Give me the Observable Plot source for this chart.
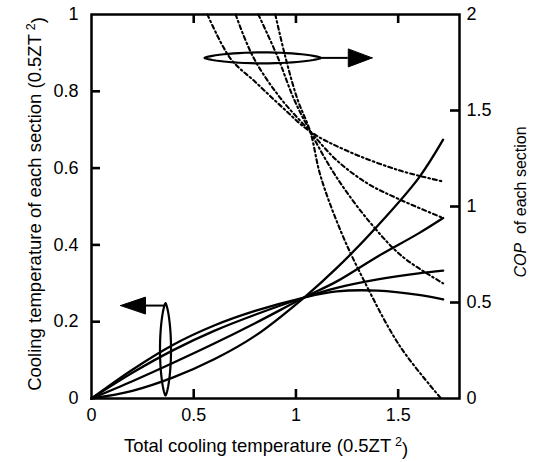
<!DOCTYPE html>
<html><head><meta charset="utf-8">
<script src="https://cdn.jsdelivr.net/npm/d3@7"></script>
<script src="https://cdn.jsdelivr.net/npm/@observablehq/plot@0.6"></script>
<style>body{margin:0;background:#fff} svg{font-family:"Liberation Sans",Arial,sans-serif}</style>
</head><body><div id="chart"></div>
<script>
// ---- data ----
const xTicks = [0, 0.5, 1, 1.5];
const yTicks = [0, 0.2, 0.4, 0.6, 0.8, 1];
const copTicks = [0, 0.5, 1, 1.5, 2];

// cooling temperature of each section (left axis, 0.5ZT^2)
const coolX = [0, 0.2, 0.4, 0.6, 0.8, 1.04, 1.2, 1.4, 1.6, 1.72];
const coolA = [0, 0.02, 0.055, 0.102, 0.163, 0.263, 0.34, 0.45, 0.574, 0.674];
const coolB = [0, 0.045, 0.093, 0.143, 0.196, 0.263, 0.305, 0.37, 0.43, 0.47];
const coolC = [0, 0.067, 0.126, 0.176, 0.218, 0.263, 0.288, 0.31, 0.326, 0.333];
const coolD = [0, 0.075, 0.14, 0.19, 0.228, 0.263, 0.279, 0.281, 0.27, 0.258];

// COP of each section (right axis)
const cop1X = [0.567, 0.68, 0.80, 0.93, 1.07, 1.25, 1.5, 1.72];
const cop1  = [2.0, 1.77, 1.65, 1.52, 1.39, 1.29, 1.19, 1.13];
const cop2X = [0.705, 0.79, 0.92, 1.07, 1.2, 1.35, 1.5, 1.72];
const cop2  = [2.0, 1.78, 1.57, 1.39, 1.24, 1.12, 1.04, 0.94];
const cop3X = [0.816, 0.91, 0.99, 1.07, 1.2, 1.36, 1.52, 1.72];
const cop3  = [2.0, 1.78, 1.56, 1.39, 1.15, 0.92, 0.74, 0.60];
const cop4X = [0.899, 0.948, 1.007, 1.07, 1.12, 1.22, 1.33, 1.51, 1.71];
const cop4  = [2.0, 1.78, 1.56, 1.39, 1.16, 0.87, 0.62, 0.27, 0.0];

// annotation ellipses and arrows: [cx, cy, rx, ry] and arrow [x0, x1(head base), tip, y, headHalf]
const ellipseCop = [0.838, 0.887, 0.285, 0.0143];
const arrowCop = [1.129, 1.256, 1.373, 0.887, 0.0234];
const ellipseCool = [0.362, 0.128, 0.027, 0.12];
const arrowCool = [0.362, 0.264, 0.142, 0.242, 0.022];

// ---- layout ----
const W = 538, H = 462, mL = 91, mR = 79, mT = 14, mB = 64;
const xDomain = [0, 1.8], yDomain = [0, 1];
const tickPx = 9;
const tLenX = tickPx * (xDomain[1] - xDomain[0]) / (W - mL - mR);
const tLenY = tickPx * (yDomain[1] - yDomain[0]) / (H - mT - mB);

// ---- build tables ----
const coolSeries = [["A", coolA], ["B", coolB], ["C", coolC], ["D", coolD]]
  .flatMap(([k, ys]) => ys.map((y, i) => ({s: k, x: coolX[i], y})));
const copSeries = [["1", cop1X, cop1], ["2", cop2X, cop2], ["3", cop3X, cop3], ["4", cop4X, cop4]]
  .flatMap(([k, xs, ys]) => ys.map((c, i) => ({s: k, x: xs[i], y: c / 2})));

// inward tick marks
const vTicks = [
  ...[0.5, 1, 1.5].map(v => ({x: v, y1: 0, y2: tLenY})),
  ...[0.5, 1, 1.5].map(v => ({x: v, y1: 1 - tLenY, y2: 1}))
];
const hTicks = [
  ...[0.2, 0.4, 0.6, 0.8].map(v => ({y: v, x1: 0, x2: tLenX})),
  ...[0.5, 1, 1.5].map(c => ({y: c / 2, x1: 1.8 - tLenX, x2: 1.8}))
];

function lens([cx, cy, rx, ry], horizontal) {
  const pts = [];
  const n = 60;
  for (let i = 0; i <= n; i++) {
    const a = (i / n) * 2 * Math.PI;
    const c = Math.cos(a), s = Math.sin(a);
    const h = Math.sign(s) * Math.pow(Math.abs(s), 1.4);
    if (horizontal) pts.push({x: cx + rx * c, y: cy + ry * h});
    else pts.push({x: cx + rx * h, y: cy + ry * c});
  }
  return pts;
}
function head([x0, x1, tip, y, hh]) {
  return [{x: tip, y}, {x: x1, y: y + hh}, {x: x1, y: y - hh}, {x: tip, y}];
}
function shaft([x0, x1, tip, y]) {
  return [{x1: x0, x2: x1, y}];
}

const chart = Plot.plot({
  width: W, height: H,
  marginLeft: mL, marginRight: mR, marginTop: mT, marginBottom: mB,
  style: {fontFamily: "Liberation Sans, Arial, sans-serif", fontSize: "18px", background: "white", color: "black"},
  x: {domain: xDomain},
  y: {domain: yDomain},
  marks: [
    // tick labels
    Plot.axisX({anchor: "bottom", ticks: xTicks, tickSize: 0, tickPadding: 10, tickFormat: d => String(d), label: null}),
    Plot.axisY({anchor: "left", ticks: yTicks, tickSize: 0, tickPadding: 13, tickFormat: d => String(d), label: null}),
    Plot.axisY({anchor: "right", ticks: copTicks.map(c => c / 2), tickSize: 0, tickPadding: 7, tickFormat: d => String(+(d * 2).toFixed(2)), label: null}),
    Plot.frame({stroke: "black", strokeWidth: 2.5}),
    // curves
    Plot.line(coolSeries, {x: "x", y: "y", z: "s", stroke: "black", strokeWidth: 2.3, curve: "catmull-rom"}),
    Plot.line(copSeries, {x: "x", y: "y", z: "s", stroke: "black", strokeWidth: 2.1, strokeDasharray: "4,3,1.6,3", curve: "catmull-rom"}),
    // annotations
    Plot.line(lens(ellipseCop, true), {x: "x", y: "y", stroke: "black", strokeWidth: 2.2, curve: "linear"}),
    Plot.ruleY(shaft(arrowCop), {x1: "x1", x2: "x2", y: "y", stroke: "black", strokeWidth: 2}),
    Plot.line(head(arrowCop), {x: "x", y: "y", stroke: "black", fill: "black", strokeWidth: 1}),
    Plot.line(lens(ellipseCool, false), {x: "x", y: "y", stroke: "black", strokeWidth: 2.2, curve: "linear"}),
    Plot.ruleY(shaft(arrowCool), {x1: "x1", x2: "x2", y: "y", stroke: "black", strokeWidth: 2}),
    Plot.line(head(arrowCool), {x: "x", y: "y", stroke: "black", fill: "black", strokeWidth: 1}),
    // inward tick marks
    Plot.ruleX(vTicks, {x: "x", y1: "y1", y2: "y2", stroke: "black", strokeWidth: 2.6}),
    Plot.ruleY(hTicks, {y: "y", x1: "x1", x2: "x2", stroke: "black", strokeWidth: 2.6})
  ]
});

const svg = d3.select(chart);
function addLabel(x, y, rot, size, parts) {
  const t = svg.append("text")
    .attr("transform", `translate(${x},${y}) rotate(${rot})`)
    .attr("text-anchor", "middle")
    .attr("font-size", size)
    .attr("fill", "black");
  for (const p of parts) {
    const ts = t.append("tspan").text(p.t);
    if (p.sup) ts.attr("dy", "-0.5em").attr("font-size", size * 0.68);
    if (p.down) ts.attr("dy", "0.5em");
    if (p.it) ts.attr("font-style", "italic");
  }
}
addLabel(41, 204, -90, 18.5, [{t: "Cooling temperature of each section (0.5ZT"}, {t: "\u2009"}, {t: "2", sup: true}, {t: ")", down: true}]);
addLabel(266, 452, 0, 18.5, [{t: "Total cooling temperature (0.5ZT"}, {t: "\u2009"}, {t: "2", sup: true}, {t: ")", down: true}]);
addLabel(526, 202, -90, 16, [{t: "COP", it: true}, {t: "\u00a0 of each section"}]);

document.getElementById("chart").appendChild(chart);
</script>
</body></html>
